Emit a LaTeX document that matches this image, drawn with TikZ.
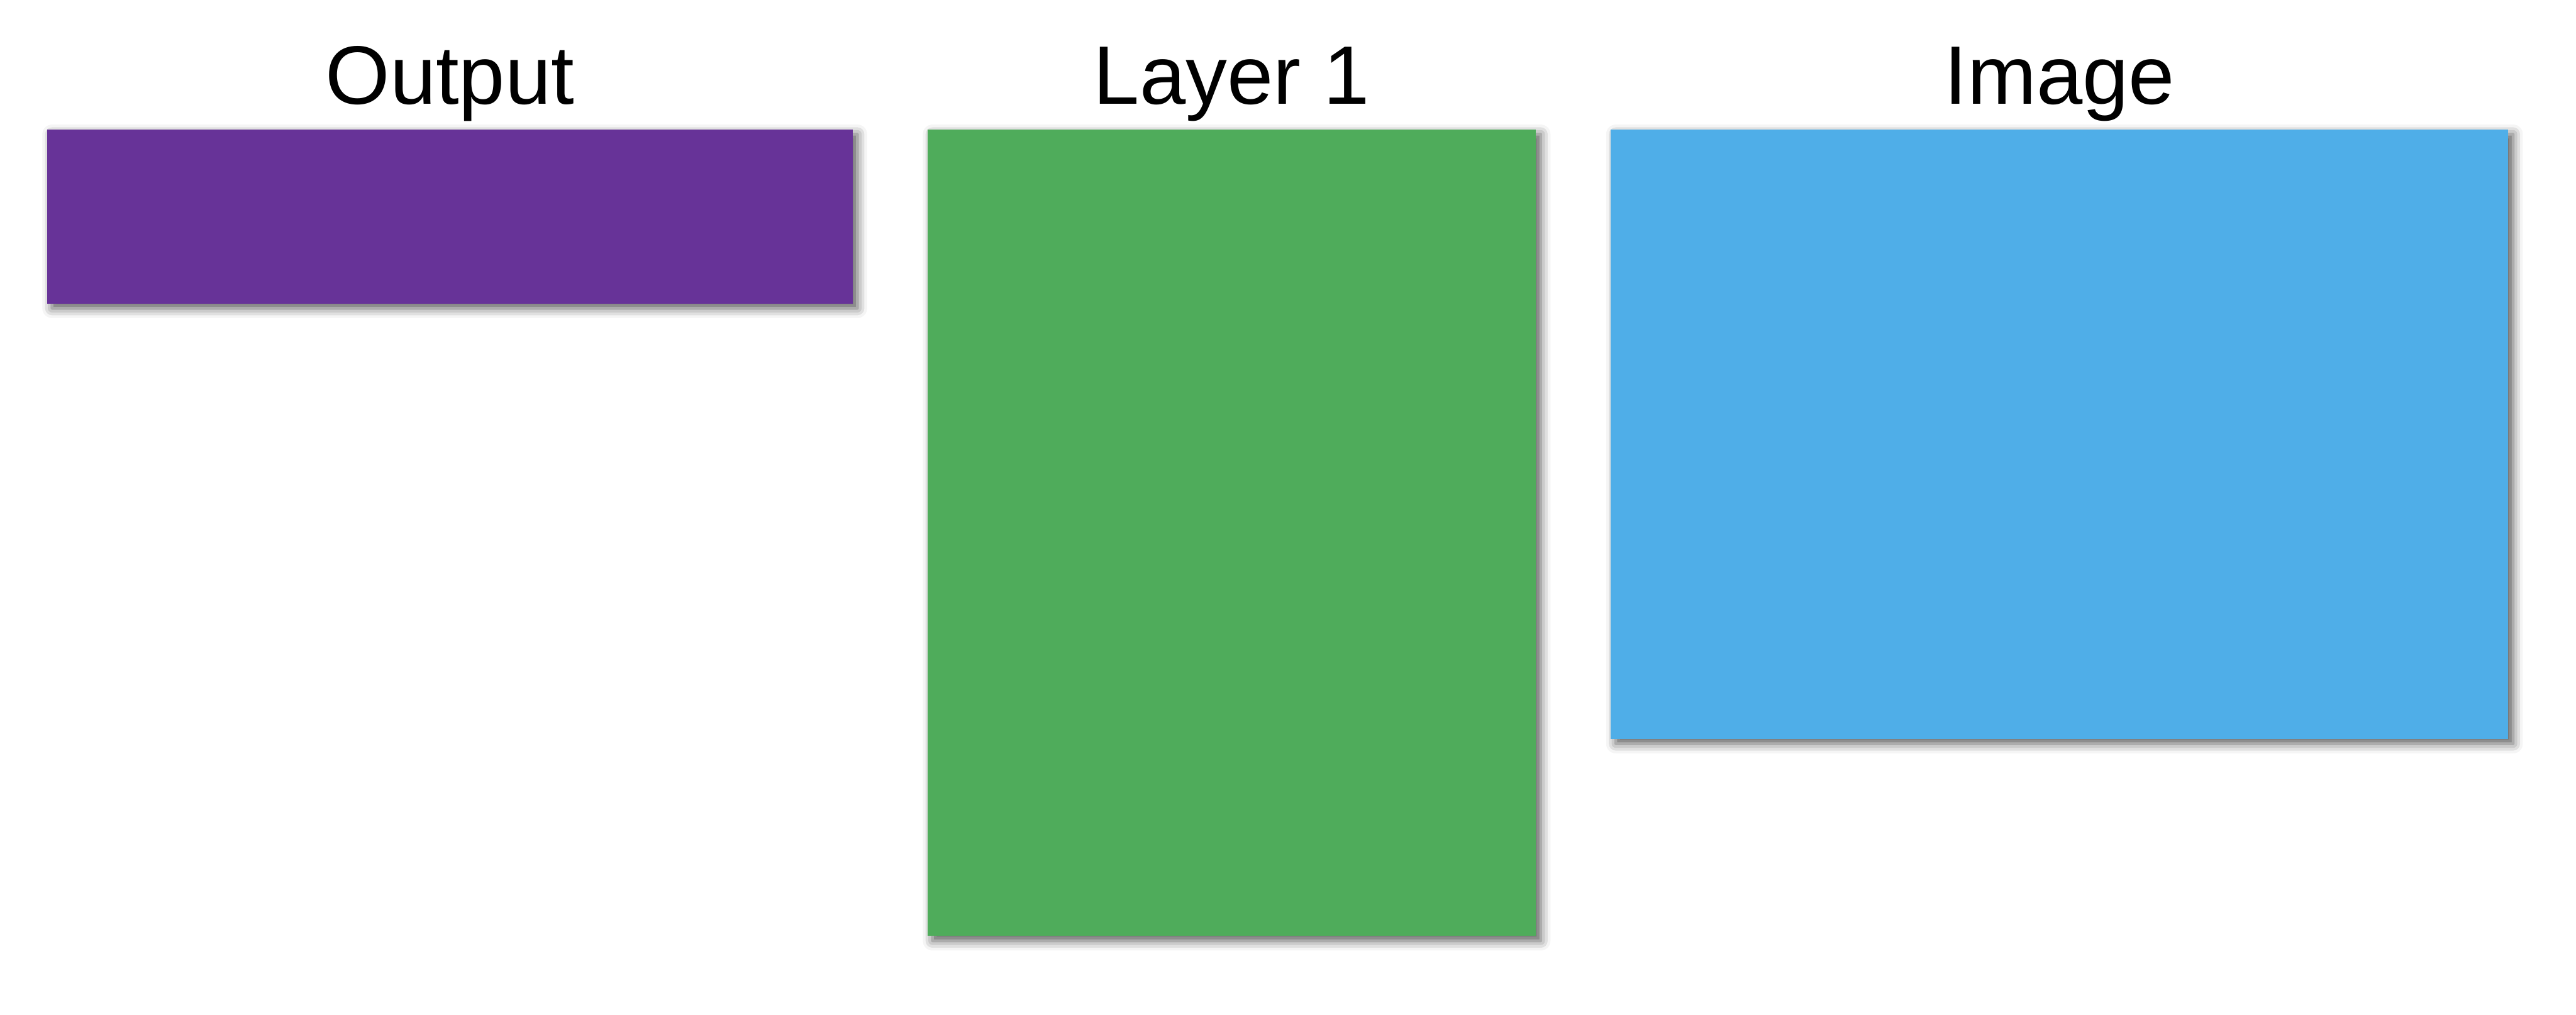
\documentclass[tikz,border=0pt]{standalone}
\usepackage{fontspec}
\setmainfont{Liberation Sans}
\usetikzlibrary{positioning,shadows.blur}
\definecolor{outpurple}{HTML}{673398}
\definecolor{layergreen}{HTML}{4FAC5B}
\definecolor{imgblue}{HTML}{4FAEE8}
\begin{document}
\begin{tikzpicture}
[
    box/.style={draw=none, inner sep=0pt, outer sep=0pt, anchor=north west,
        blur shadow={shadow xshift=0.08cm, shadow yshift=-0.08cm, shadow blur radius=0.16cm, shadow opacity=65}},
    title/.style={font=\fontsize{39}{44}\selectfont, inner sep=0pt, anchor=base}
]
    \useasboundingbox (0,0) rectangle (42.60,16.78);
    \node [box, fill=outpurple, minimum width=13.32cm, minimum height=2.88cm] (output) at (0.78,14.64) {};
    \node [box, fill=layergreen, minimum width=10.06cm, minimum height=13.34cm] (layer) at (15.34,14.64) {};
    \node [box, fill=imgblue, minimum width=14.84cm, minimum height=10.08cm] (image) at (26.64,14.64) {};
    \node [above=0.42cm of output.north, title] (outputlbl) {Output};
    \node [above=0.42cm of layer.north, title] (layerlbl) {Layer 1};
    \node [above=0.42cm of image.north, title] (imagelbl) {Image};
\end{tikzpicture}
\end{document}
